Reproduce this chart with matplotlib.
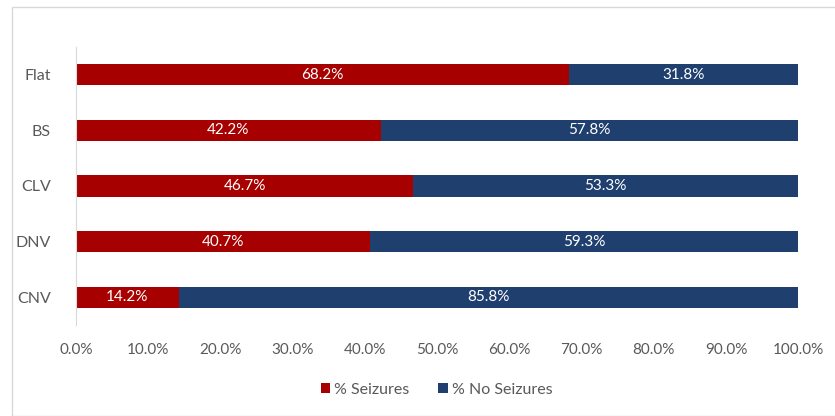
import matplotlib.pyplot as plt
import numpy as np
from matplotlib.patches import Rectangle

plt.rcParams['font.family'] = ['Lato', 'DejaVu Sans']

# data (bottom to top)
categories = ["CNV", "DNV", "CLV", "BS", "Flat"]
seizures = [14.2, 40.7, 46.7, 42.2, 68.2]
no_seizures = [85.8, 59.3, 53.3, 57.8, 31.8]
xticks = [0, 10, 20, 30, 40, 50, 60, 70, 80, 90, 100]

red = "#A60000"
blue = "#1F3F6F"
gray = "#595959"

fig = plt.figure(figsize=(8.35, 4.16), dpi=100)
ax = fig.add_axes([0.091, 0.219, 0.865, 0.668])

# outer light frame like the exported chart area
fig.patches.append(Rectangle((12 / 835, 0), 1, 1 - 7 / 416, transform=fig.transFigure,
                             fill=False, edgecolor="#D9D9D9", linewidth=1))

y = np.arange(len(categories))
h = 0.38
b1 = ax.barh(y, seizures, height=h, color=red, label="% Seizures")
b2 = ax.barh(y, no_seizures, left=seizures, height=h, color=blue, label="% No Seizures")

for i in range(len(categories)):
    ax.text(seizures[i] / 2, y[i], f"{seizures[i]:.1f}%", ha="center", va="center",
            color="white", fontsize=11)
    ax.text(seizures[i] + no_seizures[i] / 2, y[i], f"{no_seizures[i]:.1f}%", ha="center",
            va="center", color="white", fontsize=11)

ax.set_xlim(0, 100)
ax.set_ylim(-0.5, len(categories) - 0.5)
ax.set_yticks(y)
ax.set_yticklabels(categories)
ax.set_xticks(xticks)
ax.set_xticklabels([f"{t:.1f}%" for t in xticks])
ax.tick_params(axis="both", length=0, colors=gray, labelsize=11)
ax.tick_params(axis="y", labelsize=11.5, pad=18)
ax.tick_params(axis="x", pad=13)

for s in ["top", "right", "bottom"]:
    ax.spines[s].set_visible(False)
ax.spines["left"].set_color("#D9D9D9")

# legend sits centred under the plot area, not the figure
leg = fig.legend(handles=[b1, b2], loc="center", bbox_to_anchor=(0.523, 1 - 390 / 416), ncol=2,
                 frameon=False, fontsize=11.5, handlelength=0.6, handleheight=0.6,
                 handletextpad=0.25, columnspacing=1.8)
for t in leg.get_texts():
    t.set_color(gray)

fig.savefig("out.png", dpi=100)
